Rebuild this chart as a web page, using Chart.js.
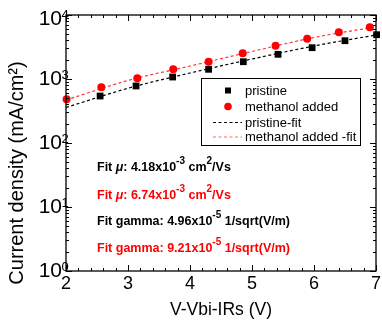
<!DOCTYPE html>
<html>
<head>
<meta charset="utf-8">
<script src="https://cdn.jsdelivr.net/npm/chart.js@4"></script>
<style>
  html, body { margin: 0; padding: 0; background: #fff; }
  #wrap { width: 382px; height: 321px; }
</style>
</head>
<body>
<div id="wrap"><canvas id="jvChart" width="382" height="321"></canvas></div>
<script>
// values
const pristineV = [2.55, 3.13, 3.72, 4.30, 4.86, 5.42, 5.97, 6.50, 7.01];
const pristineJ = [542, 778, 1074, 1418, 1862, 2432, 3083, 3966, 4920];
const methanolV = [2.01, 2.57, 3.15, 3.73, 4.30, 4.85, 5.38, 5.89, 6.40, 6.90];
const methanolJ = [482, 742, 1025, 1418, 1862, 2522, 3315, 4262, 5370, 6425];
const fitV = [2, 3, 4, 5, 6, 7];
const pristineFitJ = [359, 716, 1241, 2053, 3280, 4870];
const methanolFitJ = [470, 948, 1596, 2690, 4450, 6530];
const xTicks = [2, 3, 4, 5, 6, 7];
const yTickExps = [0, 1, 2, 3, 4];
const legendLabels = ["pristine", "methanol added", "pristine-fit", "methanol added -fit"];

const RED = "#ff0000";
const FONT = "Arial, 'Liberation Sans', sans-serif";

function pts(xs, ys) {
    return xs.map((x, i) => ({ x: x, y: ys[i] }));
}

// frame, inward ticks, labels, legend and fit text
const decorPlugin = {
    id: "decor",
    afterDatasetsDraw(chart) {
        const ctx = chart.ctx;
        const a = chart.chartArea;
        const xs = chart.scales.x, ys = chart.scales.y;
        ctx.save();
        ctx.strokeStyle = "#000";
        ctx.lineWidth = 1.3;
        ctx.strokeRect(a.left, a.top, a.right - a.left, a.bottom - a.top);

        ctx.lineWidth = 1;
        ctx.beginPath();
        // x ticks, major every 1, minor every 0.2
        for (let k = 0; k <= 25; k++) {
            const v = 2 + k * 0.2;
            const px = Math.round(xs.getPixelForValue(v)) + 0.5;
            const len = (k % 5 === 0) ? 6 : 3;
            ctx.moveTo(px, a.bottom); ctx.lineTo(px, a.bottom - len);
            ctx.moveTo(px, a.top); ctx.lineTo(px, a.top + len);
        }
        // y ticks, log decades with minor 2..9
        for (let e = 0; e <= 4; e++) {
            for (let m = 1; m <= 9; m++) {
                if (e === 4 && m > 1) break;
                const py = Math.round(ys.getPixelForValue(m * Math.pow(10, e))) + 0.5;
                const len = m === 1 ? 6 : 3;
                ctx.moveTo(a.left, py); ctx.lineTo(a.left + len, py);
                ctx.moveTo(a.right, py); ctx.lineTo(a.right - len, py);
            }
        }
        ctx.stroke();

        // x tick labels
        ctx.fillStyle = "#000";
        ctx.font = "18px " + FONT;
        ctx.textAlign = "center";
        ctx.textBaseline = "middle";
        xTicks.forEach(v => ctx.fillText(String(v), xs.getPixelForValue(v), a.bottom + 13));

        // y tick labels 10^n
        yTickExps.forEach(e => {
            const c = Math.max(ys.getPixelForValue(Math.pow(10, e)), 19);
            ctx.font = "21px " + FONT;
            ctx.textAlign = "right";
            ctx.textBaseline = "middle";
            ctx.fillText("10", 62, c);
            ctx.font = "13px " + FONT;
            ctx.textAlign = "left";
            ctx.textBaseline = "top";
            ctx.fillText(String(e), 61.5, c - 10);
        });

        // axis titles
        ctx.font = "17.5px " + FONT;
        ctx.textAlign = "center";
        ctx.textBaseline = "middle";
        ctx.fillText("V-Vbi-IRs (V)", (a.left + a.right) / 2, 310);
        ctx.save();
        ctx.translate(17, 173);
        ctx.rotate(-Math.PI / 2);
        ctx.font = "20px " + FONT;
        ctx.fillText("Current density (mA/cm²)", 0, 0);
        ctx.restore();

        // legend box
        const lx = 201, ly = 78, lw = 159, lh = 67;
        ctx.fillStyle = "#fff";
        ctx.fillRect(lx, ly, lw, lh);
        ctx.lineWidth = 1;
        ctx.strokeStyle = "#000";
        ctx.strokeRect(lx + 0.5, ly + 0.5, lw, lh);
        const rows = [90.5, 106.5, 122.5, 137];
        ctx.fillStyle = "#000";
        ctx.fillRect(225, rows[0] - 3, 6, 6);
        ctx.fillStyle = RED;
        ctx.beginPath();
        ctx.arc(228, rows[1], 3.8, 0, Math.PI * 2);
        ctx.fill();
        ctx.lineWidth = 1.2;
        ctx.setLineDash([3, 2.5]);
        ctx.strokeStyle = "#000";
        ctx.beginPath(); ctx.moveTo(213, rows[2]); ctx.lineTo(242, rows[2]); ctx.stroke();
        ctx.strokeStyle = "#ff6a6a";
        ctx.beginPath(); ctx.moveTo(213, rows[3]); ctx.lineTo(242, rows[3]); ctx.stroke();
        ctx.setLineDash([]);
        ctx.fillStyle = "#000";
        ctx.font = "13px " + FONT;
        ctx.textAlign = "left";
        ctx.textBaseline = "middle";
        legendLabels.forEach((t, i) => ctx.fillText(t, 245, rows[i] + 0.5));

        // fit results text
        const notes = [
            { y: 167.5, color: "#000", parts: [["Fit ", 0], ["μ", 2], [": 4.18x10", 0], ["-3", 1], [" cm", 0], ["2", 1], ["/Vs", 0]] },
            { y: 195.5, color: RED, parts: [["Fit ", 0], ["μ", 2], [": 6.74x10", 0], ["-3", 1], [" cm", 0], ["2", 1], ["/Vs", 0]] },
            { y: 222, color: "#000", parts: [["Fit gamma: 4.96x10", 0], ["-5", 1], [" 1/sqrt(V/m)", 0]] },
            { y: 249, color: RED, parts: [["Fit gamma: 9.21x10", 0], ["-5", 1], [" 1/sqrt(V/m)", 0]] }
        ];
        ctx.textAlign = "left";
        ctx.textBaseline = "middle";
        notes.forEach(n => {
            let x = 97;
            ctx.fillStyle = n.color;
            n.parts.forEach(([t, kind]) => {
                if (kind === 1) {
                    ctx.font = "bold 10px " + FONT;
                    ctx.fillText(t, x, n.y - 6.5);
                } else if (kind === 2) {
                    ctx.font = "italic bold 12.5px " + FONT;
                    ctx.fillText(t, x, n.y);
                } else {
                    ctx.font = "bold 12.5px " + FONT;
                    ctx.fillText(t, x, n.y);
                }
                x += ctx.measureText(t).width;
            });
        });
        ctx.restore();
    }
};

const ctx = document.getElementById("jvChart").getContext("2d");
new Chart(ctx, {
    type: "scatter",
    data: {
        datasets: [
            {
                label: "pristine-fit",
                data: pts(fitV, pristineFitJ),
                showLine: true,
                borderColor: "#000",
                borderWidth: 1.2,
                borderDash: [3, 2.5],
                pointRadius: 0,
                cubicInterpolationMode: "monotone",
                order: 3
            },
            {
                label: "methanol added -fit",
                data: pts(fitV, methanolFitJ),
                showLine: true,
                borderColor: "#ff3030",
                borderWidth: 1.2,
                borderDash: [3, 2.5],
                pointRadius: 0,
                cubicInterpolationMode: "monotone",
                order: 4
            },
            {
                label: "pristine",
                data: pts(pristineV, pristineJ),
                pointStyle: "rect",
                pointRadius: 4.8,
                backgroundColor: "#000",
                borderColor: "#000",
                borderWidth: 0,
                clip: false,
                order: 1
            },
            {
                label: "methanol added",
                data: pts(methanolV, methanolJ),
                pointStyle: "circle",
                pointRadius: 4,
                backgroundColor: RED,
                borderColor: RED,
                borderWidth: 0,
                clip: false,
                order: 2
            }
        ]
    },
    options: {
        responsive: false,
        devicePixelRatio: 1,
        animation: false,
        layout: { padding: { left: 66, right: 6, top: 15, bottom: 50 } },
        scales: {
            x: { type: "linear", min: 2, max: 7, display: false },
            y: { type: "logarithmic", min: 1, max: 10000, display: false }
        },
        plugins: {
            legend: { display: false },
            tooltip: { enabled: false }
        }
    },
    plugins: [decorPlugin]
});
</script>
</body>
</html>
